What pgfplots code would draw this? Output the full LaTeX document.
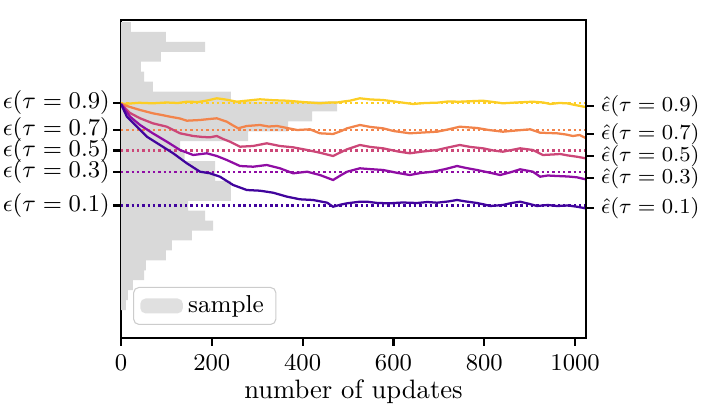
\documentclass[border=0pt]{standalone}
\usepackage{pgfplots}
\pgfplotsset{compat=1.18}
\definecolor{c1}{HTML}{41049D}
\definecolor{c3}{HTML}{8F0DA4}
\definecolor{c5}{HTML}{CC4778}
\definecolor{c7}{HTML}{F2844B}
\definecolor{c9}{HTML}{FCCE25}
\definecolor{histgray}{HTML}{D9D9D9}
\begin{document}
\begin{tikzpicture}
\useasboundingbox (-45.44pt,-25.91pt) rectangle (218.56pt,126.93pt);
\begin{axis}[
  scale only axis, width=174.62pt, height=119.42pt,
  at={(0,0)}, anchor=south west,
  xmin=0, xmax=1024, ymin=0, ymax=318,
  axis line style={line width=0.8pt},
  xtick={0,200,400,600,800,1000}, xtick pos=bottom,
  /pgf/number format/1000 sep={},
  ytick={132.5,166,187.5,208,235}, ytick pos=left,
  yticklabels={$\epsilon(\tau=0.1)$,$\epsilon(\tau=0.3)$,$\epsilon(\tau=0.5)$,$\epsilon(\tau=0.7)$,$\epsilon(\tau=0.9)$},
  tick align=outside, major tick length=3pt,
  tick style={line width=0.8pt, black},
  xticklabel style={font=\fontsize{9.2}{11}\selectfont},
  yticklabel style={font=\fontsize{8.85}{10}\selectfont, inner sep=1pt},
  xlabel={number of updates},
  xlabel style={font=\fontsize{10}{12}\selectfont, at={(axis description cs:0.5,0)}, anchor=base, yshift=-22.9pt},
  legend style={at={(0.026,0.041)}, anchor=south west, draw=black!20, rounded corners=2pt,
    font=\fontsize{9.2}{10}\selectfont, fill=white, fill opacity=0.8, text opacity=1,
    inner ysep=1pt, inner xsep=2.5pt},
  legend cell align=left,
]
\addplot[xbar, bar width=9.93, fill=histgray, draw=none,
  legend image code/.code={\fill[histgray] (0pt,-2.8pt) rectangle (16pt,2.8pt);}]
coordinates {
(11,32.97) (15,42.90) (26,52.83) (51,62.76) (55,72.69) (99,82.62) (112,92.55) (156,102.48)
(203,112.41) (185,122.34) (148,132.27) (242,142.20) (242,152.13) (207,162.06) (207,171.99)
(140,181.92) (130,191.85) (280,201.78) (368,211.71) (421,221.64) (476,231.57) (242,241.50)
(70,251.43) (51,261.36) (44,271.29) (88,281.22) (185,291.15) (99,301.08) (22,311.01)
};
\addlegendentry{sample}
\addplot[forget plot, c1, line width=0.8pt, dash pattern=on 0.9pt off 1.1pt] coordinates {(0,132.5) (1024,132.5)};
\addplot[forget plot, c3, line width=0.8pt, dash pattern=on 0.9pt off 1.1pt] coordinates {(0,166) (1024,166)};
\addplot[forget plot, c5, line width=0.8pt, dash pattern=on 0.9pt off 1.1pt] coordinates {(0,187.5) (1024,187.5)};
\addplot[forget plot, c7, line width=0.8pt, dash pattern=on 0.9pt off 1.1pt] coordinates {(0,208) (1024,208)};
\addplot[forget plot, c9, line width=0.8pt, dash pattern=on 0.9pt off 1.1pt] coordinates {(0,235) (1024,235)};
% tau = 0.9
\addplot[forget plot, c9, line width=0.85pt] coordinates {
(0,234) (20,234.5) (40,235.2) (70,234.7) (100,235.5) (125,235) (145,236.3) (170,236) (190,237.5)
(211,239.7) (230,238.5) (255,236.3) (280,237.5) (306,238.7) (335,237.8) (366,237.3) (400,236)
(438,234.7) (460,235.5) (476,235.5) (490,236.5) (504,237.3) (526,239.7) (550,238.5) (577,238)
(610,236) (643,234) (670,235) (696,235.3) (720,236.5) (746,236.3) (770,236.8) (797,237.3)
(820,236) (841,234.7) (870,235.5) (907,236.3) (930,235.5) (945,234) (965,235) (982,234.7)
(1000,233) (1023,231)};
% tau = 0.7
\addplot[forget plot, c7, line width=0.85pt] coordinates {
(0,234) (20,231) (42,228) (70,224.7) (90,223) (108,221.3) (130,219.5) (145,217.3) (174,218)
(195,219) (211,219.7) (233,216.3) (245,213) (258,209.7) (277,212) (306,213) (325,211.5) (344,212)
(366,210) (388,208) (416,208.7) (438,204.7) (467,204) (485,207) (498,209.7) (526,213) (550,211)
(577,209.7) (600,207) (636,204.7) (665,205.5) (696,206.3) (720,208.5) (746,211.3) (784,210)
(810,208) (841,206.3) (870,207.5) (901,208.7) (923,205.3) (960,204.7) (980,203.5) (995,202)
(1010,203) (1023,200)};
% tau = 0.5
\addplot[forget plot, c5, line width=0.85pt] coordinates {
(0,234) (20,225) (42,219.7) (70,214.7) (101,211.3) (130,204.7) (159,202) (180,201) (196,200.7)
(211,202) (225,199) (240,196.3) (262,191.3) (291,192) (321,194.7) (350,192) (379,190.7) (410,188)
(438,185.3) (467,182) (485,186) (498,188.7) (526,193) (550,191) (577,189.7) (610,186.5) (636,184.7)
(665,186.5) (696,188) (720,190.5) (746,193) (770,191) (797,189.7) (820,187.5) (841,186.3) (860,188)
(879,189.7) (907,188) (920,185) (929,183) (950,183.5) (967,184) (985,182.5) (1004,181.3) (1023,179.7)};
% tau = 0.3
\addplot[forget plot, c3, line width=0.85pt] coordinates {
(0,234) (20,221.3) (42,213) (70,204.7) (101,196.3) (130,188) (159,183) (189,184.7) (211,182)
(233,178) (262,172) (291,171.3) (321,173) (350,169.7) (379,164.7) (410,166.3) (438,163) (467,158)
(485,163) (498,166.3) (526,169.7) (545,169) (577,168) (610,165) (636,163) (660,165) (687,166.3)
(715,169) (740,172) (760,170) (784,168) (810,165.5) (835,163) (860,166) (879,168.7) (907,166.3)
(923,161.3) (940,162.5) (960,162) (985,161.5) (1004,160.7) (1023,158.7)};
% tau = 0.1
\addplot[forget plot, c1, line width=0.85pt] coordinates {
(0,234) (13,221.3) (35,211.3) (57,201.3) (86,193) (115,184.7) (145,174.7) (174,166.3) (196,164.7)
(218,161.3) (247,153) (277,148) (306,147.3) (335,145.3) (366,141.3) (394,138.7) (423,138) (454,135.3)
(467,131.3) (485,133.5) (498,134.7) (526,136.3) (542,136.3) (565,135) (592,134.7) (620,135.5)
(652,135) (675,136) (696,135.3) (720,136.5) (740,138) (760,136.5) (784,135) (800,133.5) (813,132)
(841,133) (860,135) (879,136.3) (900,134) (916,132) (940,133) (960,132) (985,132.5) (1004,131.3)
(1023,129.7)};
\end{axis}
\begin{axis}[
  scale only axis, width=174.62pt, height=119.42pt,
  at={(0,0)}, anchor=south west,
  xmin=0, xmax=1024, ymin=0, ymax=318,
  hide x axis, axis y line*=right,
  axis line style={line width=0.8pt},
  ytick={130,160,182,204,232},
  yticklabels={$\hat\epsilon(\tau=0.1)$,$\hat\epsilon(\tau=0.3)$,$\hat\epsilon(\tau=0.5)$,$\hat\epsilon(\tau=0.7)$,$\hat\epsilon(\tau=0.9)$},
  tick align=outside, major tick length=3pt,
  tick style={line width=0.8pt, black},
  yticklabel style={font=\fontsize{8.1}{9}\selectfont, inner sep=1pt, xshift=1.5pt},
]
\addplot[draw=none, forget plot] coordinates {(0,0) (1024,318)};
\end{axis}
\end{tikzpicture}
\end{document}
